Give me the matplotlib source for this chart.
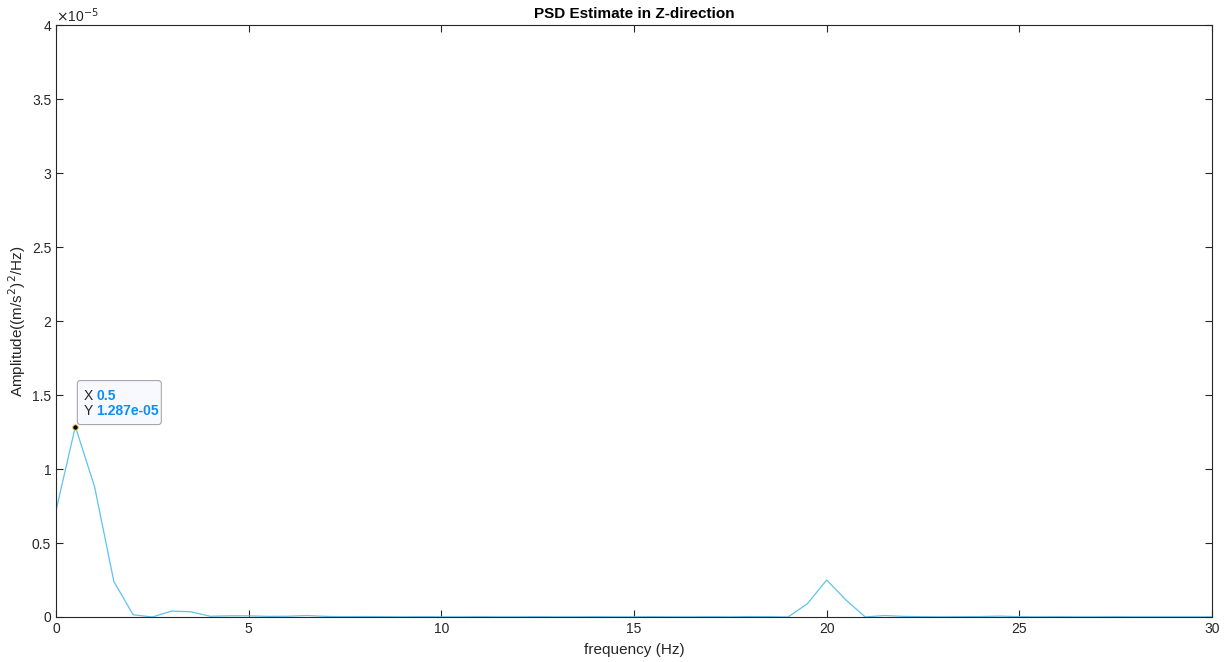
import matplotlib.pyplot as plt
import matplotlib.ticker as mticker
import matplotlib.transforms as mtransforms
from matplotlib.patches import FancyBboxPatch
import numpy as np

# PSD estimate values, in units of 1e-5 (m/s^2)^2/Hz
freq = [i * 0.5 for i in range(61)]
psd_e5 = [0.72, 1.287, 0.88, 0.24, 0.015, 0.0, 0.04, 0.035, 0.005, 0.008,
          0.008, 0.004, 0.005, 0.01, 0.004, 0.002, 0.003, 0.002, 0.001, 0.002,
          0.001, 0.001, 0.002, 0.001, 0.001, 0.002, 0.001, 0.001, 0.002, 0.001,
          0.001, 0.002, 0.001, 0.001, 0.002, 0.001, 0.003, 0.002, 0.0, 0.09,
          0.25, 0.115, 0.0, 0.01, 0.004, 0.002, 0.001, 0.002, 0.003, 0.006,
          0.002, 0.001, 0.002, 0.001, 0.001, 0.002, 0.001, 0.001, 0.001, 0.001,
          0.001]
psd = np.array(psd_e5) * 1e-5

tip_x = 0.5
tip_y = 1.287e-5

plt.rcParams['font.family'] = ['Liberation Sans', 'DejaVu Sans']
grey = '#262626'

fig = plt.figure(figsize=(12.24, 6.62), dpi=100)
ax = fig.add_axes([0.0458, 0.068, 0.9444, 0.894])
ax.plot(freq, psd, color='#5cc4ef', lw=0.9)
ax.plot([tip_x], [tip_y], 'o', ms=4, mfc='black', mec='#e6d36a', mew=0.8, zorder=6)

ax.set_xlim(0, 30)
ax.set_ylim(0, 4e-5)
ax.set_xticks(np.arange(0, 31, 5))
ax.set_yticks(np.arange(0, 4.01e-5, 0.5e-5))
ax.yaxis.set_major_formatter(mticker.FuncFormatter(lambda v, p: '%g' % round(v * 1e5, 2)))
ax.tick_params(direction='in', top=True, right=True, length=5, width=0.8,
               colors=grey, labelsize=10, labelcolor=grey)
for s in ax.spines.values():
    s.set_color(grey)
    s.set_linewidth(0.8)

ax.text(0.0, 1.0, r'$\times$10$^{-5}$', transform=ax.transAxes, fontsize=10,
        color=grey, ha='left', va='bottom')
ax.set_title('PSD Estimate in Z-direction', fontsize=11, fontweight='bold', color='black', pad=5)
ax.set_xlabel('frequency (Hz)', fontsize=11, color=grey, labelpad=5)
ax.set_ylabel(r'Amplitude((m/s$^2$)$^2$/Hz)', fontsize=11, color=grey, labelpad=3)

# data tip, laid out in inches relative to the marked point
tip_tr = fig.dpi_scale_trans + mtransforms.ScaledTranslation(tip_x, tip_y, ax.transData)
box = FancyBboxPatch((0.02, 0.02), 0.84, 0.44, boxstyle='round,pad=0,rounding_size=0.03',
                     transform=tip_tr, fc='#f8f8ff', ec='#a8a8a8', lw=0.8, zorder=5)
ax.add_patch(box)
ax.text(0.08, 0.31, 'X', transform=tip_tr, fontsize=10, color=grey, va='center', zorder=7)
ax.text(0.08, 0.16, 'Y', transform=tip_tr, fontsize=10, color=grey, va='center', zorder=7)
ax.text(0.21, 0.31, '%g' % tip_x, transform=tip_tr, fontsize=10, color='#0a8ff5',
        fontweight='bold', va='center', zorder=7)
ax.text(0.21, 0.16, '%.3e' % tip_y, transform=tip_tr, fontsize=10, color='#0a8ff5',
        fontweight='bold', va='center', zorder=7)

fig.savefig('out.png', dpi=100)
